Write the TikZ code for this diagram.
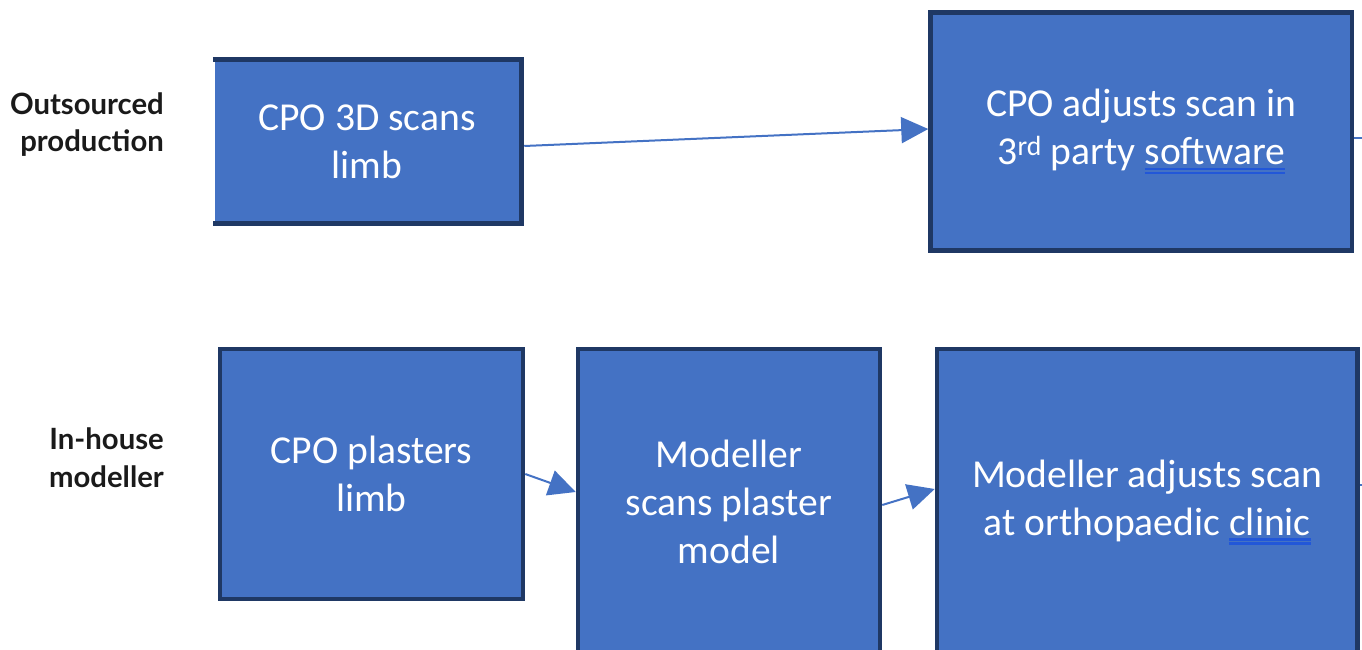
\documentclass[tikz,border=0pt]{standalone}
\usepackage{fontspec}
\usetikzlibrary{arrows.meta,calc}
\newfontfamily\boxfont{Carlito}
\newfontfamily\labelfont{Lato}
\definecolor{boxblue}{HTML}{4472C4}
\definecolor{boxedge}{HTML}{1F3864}
\definecolor{ulblue}{HTML}{2257D8}
\definecolor{labelink}{HTML}{1A1A1A}
% double proofing underline under a word
\newcommand\dblul[1]{\setbox0=\hbox{#1}\leavevmode
  \rlap{\color{ulblue}\rule[-5.5pt]{\wd0}{2.4pt}}%
  \rlap{\color{ulblue}\rule[-9.5pt]{\wd0}{2.4pt}}\box0}
\tikzset{
  stepbox/.style={draw=boxedge, line width=4.5pt, fill=boxblue, text=white,
    align=center, inner sep=0pt, font=\boxfont\fontsize{39.6}{48}\selectfont},
  rowlabel/.style={anchor=east, align=right, text=labelink, inner sep=0pt,
    font=\labelfont\bfseries\fontsize{29.3}{37.5}\selectfont},
  flow/.style={draw=boxblue, line width=2pt,
    -{Triangle[length=27pt,width=26pt]}},
  stub/.style={draw=boxblue, line width=2pt}
}
\begin{document}
\begin{tikzpicture}[x=1pt,y=1pt]
\useasboundingbox (0,0) rectangle (1362,-650);
\clip (0,0) rectangle (1362,-650);

% row labels
\node[rowlabel] (lab1) at (164,-124.5) {Outsourced\\production};
\node[rowlabel] (lab2) at (164,-457.5) {In-house\\modeller};

% outsourced row (first box has no left edge line)
\node[stepbox, draw=none, minimum width=304pt, minimum height=159pt]
  (scan) at (367,-141.5) {CPO 3D scans\\limb};
\draw[boxedge, line width=4.5pt]
  (scan.north west) -- (scan.north east) -- (scan.south east) -- (scan.south west);
\node[stepbox, minimum width=421.5pt, minimum height=238pt]
  (adjust) at (1141.25,-131.5) {CPO adjusts scan in\\3\textsuperscript{rd} party \dblul{software}};

% in-house row
\node[stepbox, minimum width=303pt, minimum height=250pt]
  (plaster) at (371.5,-474) {CPO plasters\\limb};
\node[stepbox, minimum width=302pt, minimum height=306pt]
  (model) at (729,-502) {Modeller\\scans plaster\\model};
\node[stepbox, minimum width=420.5pt, minimum height=306pt]
  (clinic) at (1147.25,-502) {Modeller adjusts scan\\at orthopaedic \dblul{clinic}};

% connectors
\draw[flow] ($(scan.east)+(3,-4.5)$) -- ($(adjust.west)+(0,2.5)$);
\draw[flow] (plaster.east) -- ($(model.west)+(0,10)$);
\draw[flow] ($(model.east)+(0,-3)$) -- ($(clinic.west)+(0,13)$);

% lines running on past the right edge
\coordinate (out1) at (1362,-138);
\coordinate (out2) at (1362,-485);
\draw[stub] ($(adjust.east)+(0,-6.5)$) -- (out1);
\draw[stub] ($(clinic.east)+(0,17)$) -- (out2);
\end{tikzpicture}
\end{document}
